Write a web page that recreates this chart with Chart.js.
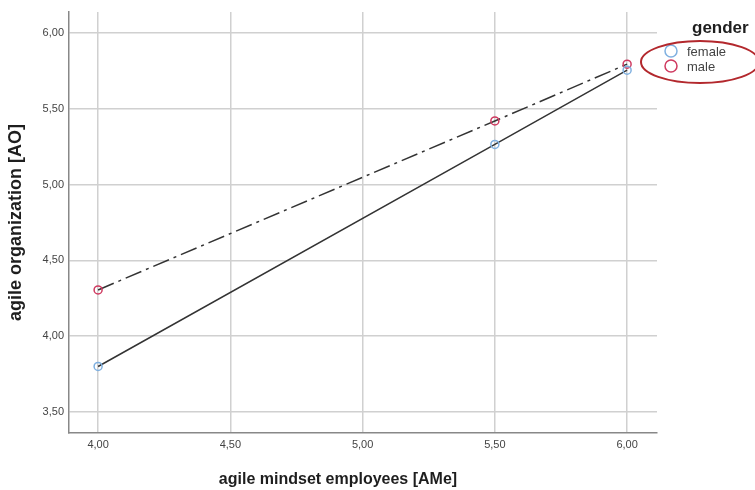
<!DOCTYPE html>
<html>
<head>
<meta charset="utf-8">
<script src="https://cdn.jsdelivr.net/npm/chart.js@4"></script>
<style>
  html, body { margin: 0; padding: 0; background: #fff; }
  #wrap { width: 755px; height: 490px; position: relative; }
</style>
</head>
<body>
<div id="wrap"><canvas id="chart"></canvas></div>
<script>
// data
const xValues = [4.0, 5.5, 6.0];
const femaleValues = [3.80, 5.265, 5.755];
const maleValues = [4.305, 5.42, 5.795];
const xTicks = [4.0, 4.5, 5.0, 5.5, 6.0];
const yTicks = [3.5, 4.0, 4.5, 5.0, 5.5, 6.0];
const seriesNames = ["female", "male"];
const legendTitle = "gender";
const xTitle = "agile mindset employees [AMe]";
const yTitle = "agile organization [AO]";

const FONT = "'Liberation Sans', Arial, sans-serif";
const FEMALE_COLOR = "#7fb0e0";
const MALE_COLOR = "#cf3a60";
const LINE_COLOR = "#333";

function toPoints(xs, ys) {
  return xs.map((x, i) => ({ x: x, y: ys[i] }));
}

function fmt(v) {
  return v.toFixed(2).replace(".", ",");
}

// legend with the red ring, plus the x title which sits left of centre
const extras = {
  id: "extras",
  afterDraw(chart) {
    const ctx = chart.ctx;
    const area = chart.chartArea;
    ctx.save();

    ctx.fillStyle = "#1e1e1e";
    ctx.font = "bold 16px " + FONT;
    ctx.textAlign = "center";
    ctx.textBaseline = "middle";
    ctx.fillText(xTitle, (area.left + area.right) / 2 - 25, 480);

    ctx.textAlign = "left";
    ctx.font = "bold 17px " + FONT;
    ctx.fillText(legendTitle, 692, 28);

    const colors = [FEMALE_COLOR, MALE_COLOR];
    ctx.font = "13px " + FONT;
    seriesNames.forEach((name, i) => {
      const y = 51 + i * 15;
      ctx.beginPath();
      ctx.arc(671, y, 6, 0, Math.PI * 2);
      ctx.strokeStyle = colors[i];
      ctx.lineWidth = 1.5;
      ctx.stroke();
      ctx.fillStyle = "#444";
      ctx.fillText(name, 687, y + 1);
    });

    ctx.beginPath();
    ctx.ellipse(700, 62, 59, 21, 0, 0, Math.PI * 2);
    ctx.strokeStyle = "#b3282d";
    ctx.lineWidth = 2;
    ctx.stroke();
    ctx.restore();
  }
};

new Chart(document.getElementById("chart"), {
  type: "scatter",
  data: {
    datasets: [
      {
        label: seriesNames[0],
        data: toPoints(xValues, femaleValues),
        showLine: true,
        borderColor: LINE_COLOR,
        borderWidth: 1.5,
        pointBorderColor: FEMALE_COLOR,
        pointBackgroundColor: "rgba(0,0,0,0)",
        pointBorderWidth: 1.5,
        pointRadius: 4,
      },
      {
        label: seriesNames[1],
        data: toPoints(xValues, maleValues),
        showLine: true,
        borderColor: LINE_COLOR,
        borderWidth: 1.5,
        borderDash: [17, 5, 3, 5],
        pointBorderColor: MALE_COLOR,
        pointBackgroundColor: "rgba(0,0,0,0)",
        pointBorderWidth: 1.5,
        pointRadius: 4,
      },
    ],
  },
  options: {
    responsive: true,
    maintainAspectRatio: false,
    animation: false,
    layout: { padding: { top: 12, right: 98, left: 0, bottom: 0 } },
    plugins: {
      legend: { display: false },
      tooltip: { enabled: false },
    },
    scales: {
      x: {
        type: "linear",
        min: 3.89,
        max: 6.113,
        afterBuildTicks: (scale) => { scale.ticks = xTicks.map(v => ({ value: v })); },
        afterFit: (scale) => { scale.height = 57; },
        grid: { color: "#d0d0d0", lineWidth: 1.5, drawTicks: false },
        border: { color: "#888", width: 1.5 },
        ticks: {
          padding: 5,
          color: "#444",
          font: { family: FONT, size: 11 },
          callback: (v) => fmt(v),
          maxRotation: 0,
        },
        title: { display: false },
      },
      y: {
        min: 3.361,
        max: 6.139,
        afterBuildTicks: (scale) => { scale.ticks = yTicks.map(v => ({ value: v })); },
        afterFit: (scale) => { scale.width = 69; },
        grid: { color: "#d0d0d0", lineWidth: 1.5, drawTicks: false },
        border: { color: "#888", width: 1.5 },
        ticks: {
          padding: 5,
          color: "#444",
          font: { family: FONT, size: 11 },
          callback: (v) => fmt(v),
        },
        title: {
          display: true,
          text: yTitle,
          color: "#1e1e1e",
          font: { family: FONT, size: 18, weight: "bold" },
          padding: { top: 5, bottom: 0 },
        },
      },
    },
  },
  plugins: [extras],
});
</script>
</body>
</html>
